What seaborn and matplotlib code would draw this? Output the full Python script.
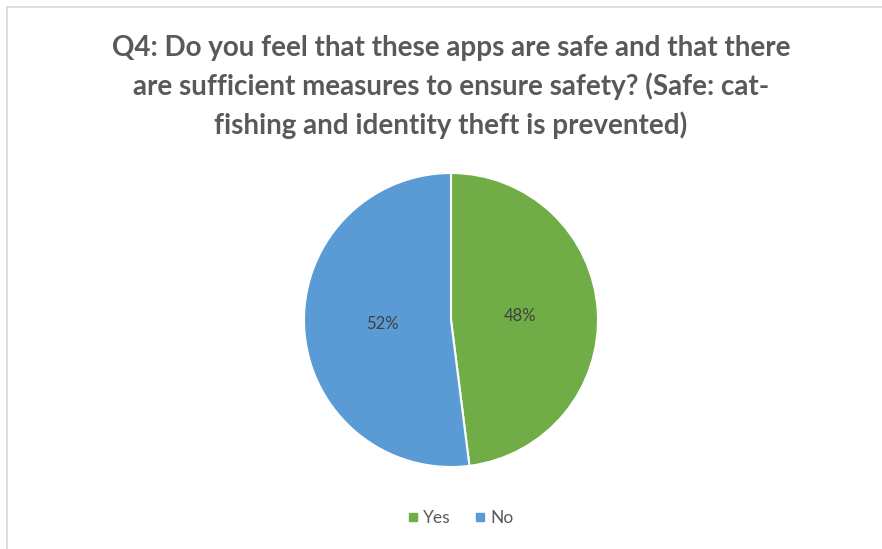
import matplotlib
matplotlib.use("Agg")
import matplotlib.pyplot as plt
from matplotlib.lines import Line2D
import seaborn as sns

categories = ["Yes", "No"]
values = [48, 52]
colors = ["#70AD47", "#5B9BD5"]
title = ("Q4: Do you feel that these apps are safe and that there\n"
         "are sufficient measures to ensure safety? (Safe: cat-\n"
         "fishing and identity theft is prevented)")

sns.set_theme(style="white")
plt.rcParams['font.family'] = ['Lato', 'DejaVu Sans']

W, H = 882, 549
fig = plt.figure(figsize=(W / 100, H / 100), dpi=100)
fig.patch.set_facecolor("white")

cx, cy, r = 451, 320, 147
ax = fig.add_axes([(cx - r) / W, (H - cy - r) / H, 2 * r / W, 2 * r / H])
ax.pie(values, colors=colors, startangle=90, counterclock=False,
       autopct=lambda p: f"{p:.0f}%", pctdistance=0.47,
       wedgeprops=dict(edgecolor="white", linewidth=1.5),
       textprops=dict(color="#404040", fontsize=12))
ax.set_xlim(-1, 1)
ax.set_ylim(-1, 1)
ax.set_aspect("equal")
ax.axis("off")

fig.text(cx / W, 1 - 35 / H, title, ha="center", va="top", fontsize=20,
         fontweight="bold", color="#595959", linespacing=1.5)

handles = [Line2D([], [], marker="s", linestyle="none", markersize=6,
                  markerfacecolor=c, markeredgecolor=c) for c in colors]
fig.legend(handles, categories, loc="center", bbox_to_anchor=(459 / W, 1 - 518 / H),
           ncol=2, frameon=False, fontsize=12.5, handletextpad=0.1,
           columnspacing=1.2, labelcolor="#595959", handlelength=1.0)

# border lines (top and left)
fig.add_artist(Line2D([7 / W, 1], [1 - 7 / H, 1 - 7 / H], color="#d9d9d9", lw=1.2,
                      transform=fig.transFigure))
fig.add_artist(Line2D([7 / W, 7 / W], [0, 1 - 7 / H], color="#d9d9d9", lw=1.2,
                      transform=fig.transFigure))

fig.savefig("out.png", dpi=100, facecolor="white")
